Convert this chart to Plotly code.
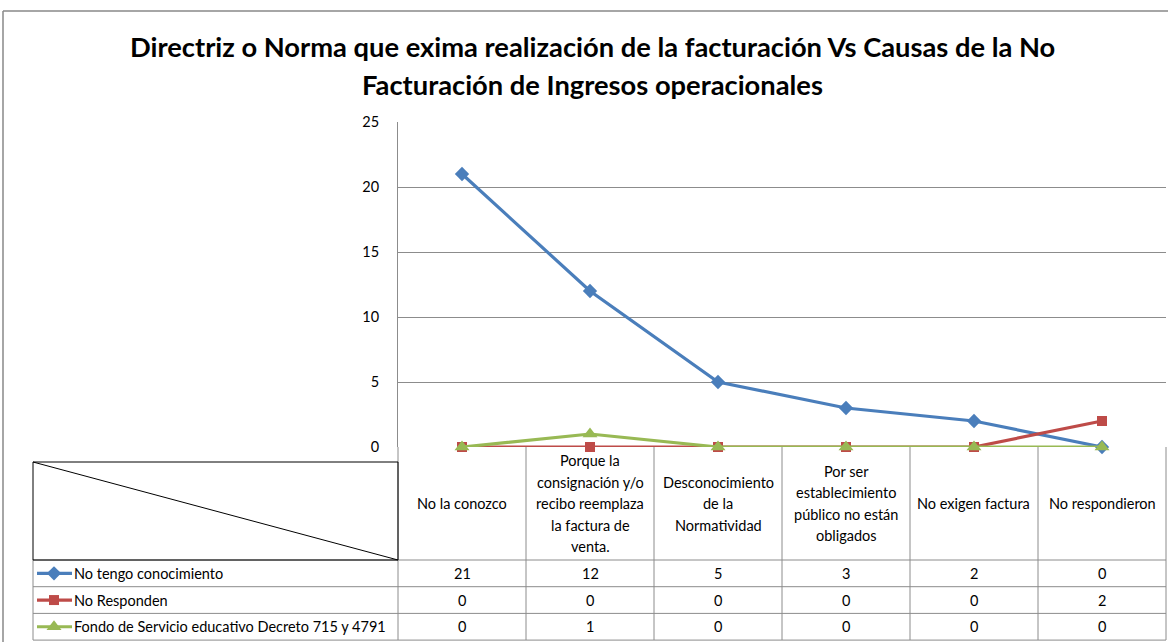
import plotly.graph_objects as go

W, H = 1168, 642

categories = [
    "No la conozco",
    "Porque la<br>consignación y/o<br>recibo reemplaza<br>la factura de<br>venta.",
    "Desconocimiento<br>de la<br>Normatividad",
    "Por ser<br>establecimiento<br>público no están<br>obligados",
    "No exigen factura",
    "No respondieron",
]
series_names = [
    "No tengo conocimiento",
    "No Responden",
    "Fondo de Servicio educativo Decreto 715 y 4791",
]
no_tengo = [21, 12, 5, 3, 2, 0]
no_responden = [0, 0, 0, 0, 0, 2]
fondo = [0, 1, 0, 0, 0, 0]
y_ticks = [0, 5, 10, 15, 20, 25]
title_lines = [
    "Directriz o Norma que exima realización de la facturación Vs Causas de la No",
    "Facturación de Ingresos operacionales",
]

colors = ["#4A7EBB", "#BE4B48", "#98B954"]
symbols = ["diamond", "square", "triangle-up"]
msizes = [11, 10, 13]
values = [no_tengo, no_responden, fondo]

FONT = "Lato"
GRID = "#8C8C8C"
TXT = 14.5

# pixel layout
PX_L, PX_R = 398, 1166
PY_T, PY_B = 122, 447
TBL_L = 33
BOX_T = 462
HDR_B = 560
ROW_H = 26.7


def X(px):
    return px / W


def Y(py):
    return 1 - py / H


n = len(categories)
col_w = (PX_R - PX_L) / n

fig = go.Figure()
for name, vals, c, s, ms in zip(series_names, values, colors, symbols, msizes):
    fig.add_trace(go.Scatter(
        x=list(range(n)), y=vals, mode="lines+markers", name=name,
        line=dict(color=c, width=3.2),
        marker=dict(symbol=s, size=ms, color=c),
        showlegend=False, cliponaxis=False,
    ))

shapes = []
annotations = []

# chart outer border
shapes.append(dict(type="line", xref="paper", yref="paper", x0=X(3), x1=X(1168), y0=Y(11), y1=Y(11),
                   line=dict(color="#888888", width=1.5)))
shapes.append(dict(type="line", xref="paper", yref="paper", x0=X(3), x1=X(3), y0=Y(11), y1=Y(642),
                   line=dict(color="#888888", width=1.5)))

# title
for i, t in enumerate(title_lines):
    annotations.append(dict(text=f"<b>{t}</b>", xref="paper", yref="paper", x=X(592), y=Y(46 + 38 * i),
                            showarrow=False, xanchor="center", yanchor="middle",
                            font=dict(family=FONT, size=27.3, color="black")))

# table: column lines
for i in range(n + 1):
    px = PX_L + i * col_w
    shapes.append(dict(type="line", xref="paper", yref="paper", x0=X(px), x1=X(px), y0=Y(PY_B), y1=Y(640),
                       line=dict(color=GRID, width=1)))
# row lines
row_ys = [HDR_B + k * ROW_H for k in range(4)]
for py in row_ys:
    shapes.append(dict(type="line", xref="paper", yref="paper", x0=X(TBL_L), x1=X(PX_R), y0=Y(py), y1=Y(py),
                       line=dict(color=GRID, width=1)))
shapes.append(dict(type="line", xref="paper", yref="paper", x0=X(TBL_L), x1=X(TBL_L), y0=Y(HDR_B), y1=Y(640),
                   line=dict(color=GRID, width=1)))
# diagonal header box
shapes.append(dict(type="rect", xref="paper", yref="paper", x0=X(TBL_L), x1=X(PX_L), y0=Y(BOX_T), y1=Y(HDR_B),
                   line=dict(color="black", width=1)))
shapes.append(dict(type="line", xref="paper", yref="paper", x0=X(TBL_L), x1=X(PX_L), y0=Y(BOX_T), y1=Y(HDR_B),
                   line=dict(color="black", width=1)))

# header labels
LINE_SP = 21.5
hdr_mid = (PY_B + HDR_B) / 2
for i, cat in enumerate(categories):
    lines = cat.split("<br>")
    cx = PX_L + (i + 0.5) * col_w
    y0 = hdr_mid - (len(lines) - 1) * LINE_SP / 2
    for j, ln in enumerate(lines):
        annotations.append(dict(text=ln, xref="paper", yref="paper", x=X(cx), y=Y(y0 + j * LINE_SP),
                                showarrow=False, xanchor="center", yanchor="middle",
                                font=dict(family=FONT, size=TXT, color="black")))

# rows
for r, (name, vals, c, s, ms) in enumerate(zip(series_names, values, colors, symbols, msizes)):
    cy = HDR_B + (r + 0.5) * ROW_H
    annotations.append(dict(text=name, xref="paper", yref="paper", x=X(72), y=Y(cy),
                            showarrow=False, xanchor="left", yanchor="middle",
                            font=dict(family=FONT, size=TXT, color="black")))
    for i, v in enumerate(vals):
        cx = PX_L + (i + 0.5) * col_w
        annotations.append(dict(text=str(v), xref="paper", yref="paper", x=X(cx), y=Y(cy),
                                showarrow=False, xanchor="center", yanchor="middle",
                                font=dict(family=FONT, size=TXT, color="black")))
    # legend key line
    fig.add_trace(go.Scatter(
        x=[37, 72], y=[cy, cy], mode="lines", xaxis="x2", yaxis="y2",
        line=dict(color=c, width=3.2),
        showlegend=False, hoverinfo="skip", cliponaxis=False,
    ))
    # legend key marker
    fig.add_trace(go.Scatter(
        x=[54], y=[cy], mode="markers", xaxis="x2", yaxis="y2",
        marker=dict(symbol=s, size=ms, color=c),
        showlegend=False, hoverinfo="skip", cliponaxis=False,
    ))

fig.update_layout(
    width=W, height=H,
    margin=dict(l=0, r=0, t=0, b=0, pad=0, autoexpand=False),
    paper_bgcolor="white", plot_bgcolor="rgba(0,0,0,0)",
    font=dict(family=FONT, size=TXT, color="black"),
    shapes=shapes, annotations=annotations,
    xaxis=dict(domain=[X(PX_L), X(PX_R)], range=[-0.5, n - 0.5], showticklabels=False,
               showgrid=False, zeroline=False, showline=False, ticks="", automargin=False),
    yaxis=dict(domain=[Y(PY_B), Y(PY_T)], range=[0, 25], tickvals=y_ticks,
               showgrid=True, gridcolor=GRID, gridwidth=1, zeroline=False,
               showline=True, linecolor=GRID, linewidth=1,
               ticks="outside", ticklen=15, tickcolor="rgba(0,0,0,0)", automargin=False,
               tickfont=dict(family=FONT, size=TXT, color="black")),
    xaxis2=dict(domain=[0, 1], range=[0, W], visible=False, anchor="y2", automargin=False),
    yaxis2=dict(domain=[0, 1], range=[H, 0], visible=False, anchor="x2", automargin=False),
)

fig.write_html("out.html", config={"displayModeBar": False},
               post_script="document.body.style.margin='0px';")
